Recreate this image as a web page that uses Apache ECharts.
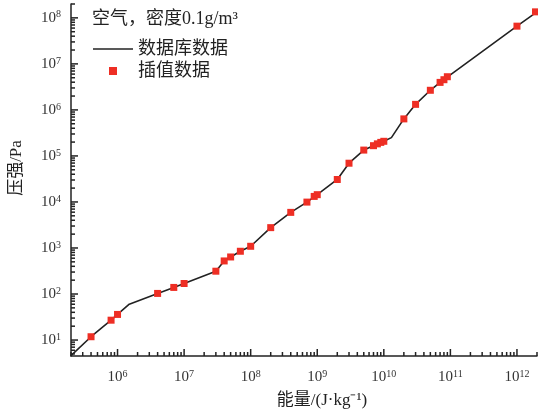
<!DOCTYPE html>
<html>
<head>
<meta charset="utf-8">
<script src="https://cdn.jsdelivr.net/npm/echarts@6/dist/echarts.min.js"></script>
<style>html,body{margin:0;padding:0;background:#fff}#c{width:538px;height:419px}</style>
</head>
<body>
<div id="c"></div>
<script>
// Database curve (energy J/kg, pressure Pa)
const dbEnergy   = [2e5, 4e5, 8e5, 1e6, 1.5e6, 4e6, 7e6, 1e7, 3e7, 4e7, 5e7, 7e7, 1e8, 2e8, 4e8, 7e8, 1e9, 2e9, 3e9, 5e9, 7e9, 1e10, 1.3e10, 2e10, 3e10, 5e10, 7e10, 1e12, 2e12];
const dbPressure = [4.6, 11.8, 27, 36, 60, 103, 139, 169, 313, 523, 638, 849, 1089, 2767, 5940, 9930, 14400, 30800, 69500, 134000, 167000, 208000, 250000, 638000, 1.32e6, 2.67e6, 3.96e6, 6.6e7, 1.35e8];
// Interpolated points
const ipEnergy   = [4e5, 8e5, 1e6, 4e6, 7e6, 1e7, 3e7, 4e7, 5e7, 7e7, 1e8, 2e8, 4e8, 7e8, 9e8, 1e9, 2e9, 3e9, 5e9, 7e9, 8e9, 9e9, 1e10, 2e10, 3e10, 5e10, 7e10, 8e10, 9e10, 1e12, 1.9e12];
const ipPressure = [11.8, 27, 36, 103, 139, 169, 313, 523, 638, 849, 1089, 2767, 5940, 9930, 13200, 14400, 30800, 69500, 134000, 167000, 183000, 197000, 208000, 638000, 1.32e6, 2.67e6, 3.96e6, 4.53e6, 5.26e6, 6.6e7, 1.35e8];
// Axis ranges and tick decades
const xRange = [2e5, 2e12];
const yRange = [4.5, 2e8];
const xDecades = [5, 6, 7, 8, 9, 10, 11, 12];
const yDecades = [0, 1, 2, 3, 4, 5, 6, 7, 8];
const legendTitle = '空气，密度0.1g/m³';
const seriesNames = ['数据库数据', '插值数据'];
const xName = '能量/(J·kg⁻¹)';
const yName = '压强/Pa';

const FONT = "'Liberation Serif','Noto Sans CJK SC',serif";
const AXIS = '#222';

function tickValues(decades, range, major) {
  const out = [];
  decades.forEach(d => {
    for (let m = 1; m <= 9; m++) {
      if ((m === 1) !== major) continue;
      const v = m * Math.pow(10, d);
      if (v >= range[0] * 0.9999 && v <= range[1] * 1.0001) out.push(v);
    }
  });
  return out;
}
const xMajorT = tickValues(xDecades, xRange, true), xMinorT = tickValues(xDecades, xRange, false);
const yMajorT = tickValues(yDecades, yRange, true), yMinorT = tickValues(yDecades, yRange, false);

function expLabel(v) {
  const e = Math.round(Math.log10(v));
  return '{b|10}{s|' + e + '}';
}
const richLab = {
  b: { fontSize: 15, fontFamily: FONT, color: '#333' },
  s: { fontSize: 10, fontFamily: FONT, color: '#333', verticalAlign: 'top', padding: [0, 0, 6, 0] }
};

// tick mark series (thin bars anchored on the axis lines)
function tickSeries(vals, isX, len) {
  return {
    type: 'scatter', silent: true, clip: false, z: 6, symbol: 'rect',
    symbolSize: isX ? [1.5, len] : [len, 1.5],
    symbolOffset: isX ? [0, -len / 2] : [len / 2, 0],
    itemStyle: { color: AXIS, opacity: 1 },
    emphasis: { disabled: true },
    data: vals.map(v => isX ? [v, yRange[0]] : [xRange[0], v])
  };
}

const chart = echarts.init(document.getElementById('c'));
chart.setOption({
  animation: false,
  grid: { left: 68, right: 1, top: 4, bottom: 63 },
  title: {
    text: legendTitle, left: 92, top: 10, padding: 0,
    textStyle: { fontFamily: FONT, fontSize: 18, fontWeight: 'normal', color: '#222' }
  },
  legend: {
    orient: 'vertical', left: 93, top: 40, padding: 0, itemWidth: 40, itemHeight: 8, itemGap: 4,
    textStyle: { fontFamily: FONT, fontSize: 18, color: '#222' },
    data: [
      { name: seriesNames[0], icon: 'path://M0,0h40v1.6h-40z' },
      { name: seriesNames[1], icon: 'path://M0,0h10v10h-10z' }
    ]
  },
  xAxis: {
    type: 'log', logBase: 10, min: xRange[0], max: xRange[1], splitNumber: 7,
    name: xName, nameLocation: 'middle', nameGap: 36,
    nameTextStyle: { fontFamily: FONT, fontSize: 17, color: '#222', padding: [0, 0, 0, 36] },
    axisLine: { lineStyle: { color: AXIS, width: 1.5 } },
    axisTick: { show: false }, minorTick: { show: false }, splitLine: { show: false },
    axisLabel: { showMinLabel: false, showMaxLabel: false, margin: 13, formatter: expLabel, rich: richLab }
  },
  yAxis: {
    type: 'log', logBase: 10, min: yRange[0], max: yRange[1], splitNumber: 8,
    name: yName, nameLocation: 'middle', nameGap: 46, nameRotate: 90,
    nameTextStyle: { fontFamily: FONT, fontSize: 17, color: '#222', padding: [0, 0, 0, 24] },
    axisLine: { lineStyle: { color: AXIS, width: 1.5 } },
    axisTick: { show: false }, minorTick: { show: false }, splitLine: { show: false },
    axisLabel: { showMinLabel: false, showMaxLabel: false, margin: 10, formatter: expLabel, rich: richLab }
  },
  series: [
    {
      name: seriesNames[0], type: 'line', symbol: 'none', showSymbol: false,
      data: dbEnergy.map((x, i) => [x, dbPressure[i]]),
      lineStyle: { color: '#222', width: 1.6 }, itemStyle: { color: '#222' }, z: 2
    },
    {
      name: seriesNames[1], type: 'scatter', symbol: 'rect', symbolSize: 7,
      data: ipEnergy.map((x, i) => [x, ipPressure[i]]),
      itemStyle: { color: '#ee2e24', opacity: 1 }, z: 3
    },
    tickSeries(xMajorT, true, 7),
    tickSeries(xMinorT, true, 4),
    tickSeries(yMajorT, false, 7),
    tickSeries(yMinorT, false, 4)
  ]
});
</script>
</body>
</html>
